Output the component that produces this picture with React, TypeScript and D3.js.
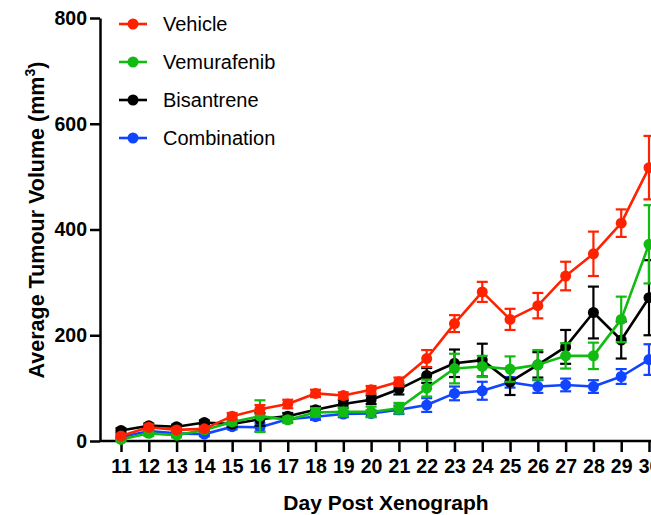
import React, { useEffect, useRef } from "react";
import * as d3 from "d3";

const days = [11, 12, 13, 14, 15, 16, 17, 18, 19, 20, 21, 22, 23, 24, 25, 26, 27, 28, 29, 30];
const yTicks = [0, 200, 400, 600, 800];

const vehicle = [9.5, 26, 21, 23, 47, 60, 70, 90, 86, 97, 112, 156, 222, 282, 230, 256, 312, 354, 412, 517];
const vehicleErr = [4, 5, 4, 4, 6, 8, 8, 7, 6, 7, 8, 16, 16, 19, 20, 24, 27, 42, 26, 60];

const vemurafenib = [3, 14.5, 11, 21, 36, 47, 40, 54, 55, 55, 62, 100, 137, 141, 136, 144, 161, 161, 230, 372];
const vemurafenibErr = [3, 5, 4, 4, 6, 30, 6, 8, 8, 10, 10, 16, 28, 20, 24, 28, 24, 25, 43, 74];

const bisantrene = [20, 29, 27, 35, 32, 41, 47, 59, 70, 78, 98, 124, 147, 153, 112, 144, 178, 243, 191, 271];
const bisantreneErr = [4, 4, 4, 4, 5, 12, 6, 6, 7, 8, 10, 14, 26, 31, 25, 24, 32, 49, 35, 71];

const combination = [7, 19, 14.5, 13, 27, 26, 41, 46, 51, 52, 59, 68, 90, 95, 111, 103, 106, 103, 122, 154];
const combinationErr = [3, 4, 4, 4, 5, 8, 5, 6, 6, 6, 8, 13, 13, 17, 10, 12, 12, 12, 14, 29];

const seriesNames = ["Vehicle", "Vemurafenib", "Bisantrene", "Combination"];
const seriesColors = ["#FF2200", "#11BB11", "#000000", "#1144FF"];

export default function App() {
  const ref = useRef<SVGSVGElement | null>(null);

  useEffect(() => {
    const svg = d3.select(ref.current);
    svg.selectAll("*").remove();

    const x = d3.scaleLinear().domain([11, 30]).range([121, 649]);
    const y = d3.scaleLinear().domain([0, 800]).range([441, 18]);

    const font = "Arial, 'Liberation Sans', sans-serif";

    // Y axis
    const yAxis = svg
      .append("g")
      .attr("transform", "translate(100,0)")
      .call(d3.axisLeft(y).tickValues(yTicks).tickSize(10).tickPadding(3).tickSizeOuter(0));
    yAxis.select(".domain").attr("stroke", "#000").attr("stroke-width", 2.5);
    yAxis.selectAll(".tick line").attr("stroke", "#000").attr("stroke-width", 2.5);
    yAxis
      .selectAll(".tick text")
      .attr("font-family", font)
      .attr("font-weight", "bold")
      .attr("font-size", 19.5)
      .attr("fill", "#000");

    // X axis
    const xAxis = svg
      .append("g")
      .attr("transform", "translate(0,441)")
      .call(d3.axisBottom(x).tickValues(days).tickFormat(d3.format("d")).tickSize(11).tickPadding(7).tickSizeOuter(0));
    xAxis.select(".domain").attr("d", `M100,0H${x(30) + 5}`).attr("stroke", "#000").attr("stroke-width", 2.5);
    xAxis.selectAll(".tick line").attr("stroke", "#000").attr("stroke-width", 2.5);
    xAxis
      .selectAll(".tick text")
      .attr("font-family", font)
      .attr("font-weight", "bold")
      .attr("font-size", 19.5)
      .attr("fill", "#000");

    // Axis titles
    svg
      .append("text")
      .attr("x", 386)
      .attr("y", 510)
      .attr("text-anchor", "middle")
      .attr("font-family", font)
      .attr("font-weight", "bold")
      .attr("font-size", 21)
      .text("Day Post Xenograph");

    const yt = svg
      .append("text")
      .attr("transform", "translate(44,220) rotate(-90)")
      .attr("text-anchor", "middle")
      .attr("font-family", font)
      .attr("font-weight", "bold")
      .attr("font-size", 21.5);
    yt.append("tspan").text("Average Tumour Volume (mm");
    yt.append("tspan").attr("font-size", 14).attr("dy", -9).text("3");
    yt.append("tspan").attr("dy", 9).text(")");

    const data = [
      { vals: combination, err: combinationErr, color: seriesColors[3] },
      { vals: bisantrene, err: bisantreneErr, color: seriesColors[2] },
      { vals: vemurafenib, err: vemurafenibErr, color: seriesColors[1] },
      { vals: vehicle, err: vehicleErr, color: seriesColors[0] },
    ];

    const line = d3
      .line<number>()
      .x((_, i) => x(days[i]))
      .y((d) => y(d));

    data.forEach((s) => {
      const g = svg.append("g");
      s.vals.forEach((v, i) => {
        const cx = x(days[i]);
        const top = y(v + s.err[i]);
        const bot = y(v - s.err[i]);
        g.append("line").attr("x1", cx).attr("x2", cx).attr("y1", top).attr("y2", bot)
          .attr("stroke", s.color).attr("stroke-width", 2.2);
        g.append("line").attr("x1", cx - 5.5).attr("x2", cx + 5.5).attr("y1", top).attr("y2", top)
          .attr("stroke", s.color).attr("stroke-width", 2.2);
        g.append("line").attr("x1", cx - 5.5).attr("x2", cx + 5.5).attr("y1", bot).attr("y2", bot)
          .attr("stroke", s.color).attr("stroke-width", 2.2);
      });
      g.append("path").attr("d", line(s.vals) as string).attr("fill", "none")
        .attr("stroke", s.color).attr("stroke-width", 2.6).attr("stroke-linejoin", "round");
      g.selectAll("circle").data(s.vals).enter().append("circle")
        .attr("cx", (_, i) => x(days[i]))
        .attr("cy", (d) => y(d))
        .attr("r", 5.5)
        .attr("fill", s.color);
    });

    // Legend
    const legendY = d3.scalePoint<string>().domain(seriesNames).range([24, 138]);
    seriesNames.forEach((name, i) => {
      const ly = legendY(name) as number;
      svg.append("line").attr("x1", 119).attr("x2", 147).attr("y1", ly).attr("y2", ly)
        .attr("stroke", seriesColors[i]).attr("stroke-width", 2.6);
      svg.append("circle").attr("cx", 133).attr("cy", ly).attr("r", 5.5).attr("fill", seriesColors[i]);
      svg.append("text").attr("x", 163).attr("y", ly).attr("dy", "0.35em")
        .attr("font-family", font).attr("font-size", 20).attr("fill", "#000").text(name);
    });
  }, []);

  return (
    <svg
      ref={ref}
      width={651}
      height={515}
      style={{ position: "fixed", left: 0, top: 0, background: "#fff", overflow: "hidden" }}
    />
  );
}
